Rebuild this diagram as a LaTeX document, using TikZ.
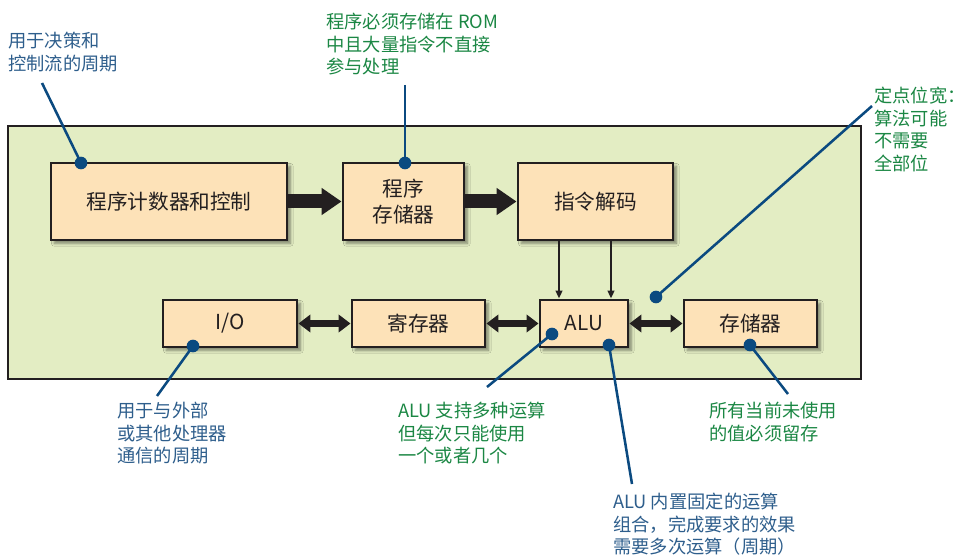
\documentclass[tikz,border=0pt]{standalone}
\usepackage{fontspec}
\setmainfont{Noto Sans CJK SC}
\usetikzlibrary{arrows.meta,shadows.blur}
\definecolor{boxfill}{HTML}{FDE2B8}
\definecolor{outerfill}{HTML}{E3EDC3}
\definecolor{callline}{HTML}{0B4A80}
\definecolor{blutext}{HTML}{2E5E8C}
\definecolor{grntext}{HTML}{1B8744}
\definecolor{edgecol}{HTML}{231F20}
\begin{document}
\begin{tikzpicture}[x=0.75pt,y=-0.75pt,
  unitbox/.style={draw=edgecol,line width=2.2pt,fill=boxfill,text=edgecol,
    font=\fontsize{15.5}{19}\selectfont,align=center,inner sep=0pt,
    blur shadow={shadow xshift=2.5pt,shadow yshift=-2.5pt,shadow blur steps=6,shadow opacity=45}},
  bigarrow/.style={edgecol,line width=10.5pt,-{Triangle[length=15pt,width=19.5pt]}},
  dblarrow/.style={edgecol,line width=5pt,{Triangle[length=9pt,width=13pt]}-{Triangle[length=9pt,width=13pt]}},
  thinarrow/.style={edgecol,line width=1.5pt,-{Triangle[length=6pt,width=5pt]}},
  callout/.style={callline,line width=1.9pt},
  calldot/.style={fill=callline,draw=none,circle,minimum size=9.5pt,inner sep=0pt},
  note/.style={anchor=north west,inner sep=0pt,align=left,font=\fontsize{13.7}{16.9}\selectfont},
  bluenote/.style={note,text=blutext},
  greennote/.style={note,text=grntext}]
\useasboundingbox (0,0) rectangle (958,556);
% outer area
\node[draw=edgecol,line width=2.2pt,fill=outerfill,minimum width=639.75pt,minimum height=189.75pt,inner sep=0pt] (outer) at (434.5,252.5) {};
% units
\node[unitbox,minimum width=177pt,minimum height=57.75pt] (pc) at (169,201.5) {程序计数器和控制};
\node[unitbox,minimum width=90.75pt,minimum height=57.75pt] (pm) at (403.5,201.5) {程序\\存储器};
\node[unitbox,minimum width=116.25pt,minimum height=57.75pt] (dec) at (595.5,201.5) {指令解码};
\node[unitbox,minimum width=100.5pt,minimum height=35.25pt] (io) at (230,323.5) {I/O};
\node[unitbox,minimum width=99.75pt,minimum height=35.25pt] (reg) at (418.5,323.5) {寄存器};
\node[unitbox,minimum width=66pt,minimum height=35.25pt] (alu) at (584,323.5) {ALU};
\node[unitbox,minimum width=99.75pt,minimum height=35.25pt] (mem) at (750.5,323.5) {存储器};
% data paths
\draw[bigarrow] (pc.east) -- (pm.west);
\draw[bigarrow] (pm.east) -- (dec.west);
\draw[dblarrow] (io.east) -- (reg.west);
\draw[dblarrow] (reg.east) -- (alu.west);
\draw[dblarrow] (alu.east) -- (mem.west);
\coordinate (a1) at (559,300);
\coordinate (a2) at (611,300);
\draw[thinarrow] (dec.south -| a1) -- (alu.north -| a1);
\draw[thinarrow] (dec.south -| a2) -- (alu.north -| a2);
% callout texts
\node[bluenote] (t1) at (8,32) {用于决策和\\控制流的周期};
\node[greennote] (t2) at (326,13) {程序必须存储在 ROM\\中且大量指令不直接\\参与处理};
\node[greennote] (t3) at (874,87) {定点位宽\makebox[0.3em][l]{：}\\算法可能\\不需要\\全部位};
\node[bluenote] (t4) at (117,402) {用于与外部\\或其他处理器\\通信的周期};
\node[greennote] (t5) at (398,402) {ALU 支持多种运算\\但每次只能使用\\一个或者几个};
\node[bluenote] (t6) at (613,493) {ALU 内置固定的运算\\组合，完成要求的效果\\需要多次运算（周期）};
\node[greennote] (t7) at (709,402) {所有当前未使用\\的值必须留存};
% callout lines
\coordinate (e1) at (42,83);   \node[calldot] (d1) at (81,163) {};
\coordinate (e2) at (405,85);  \node[calldot] (d2) at (405,163) {};
\coordinate (e3) at (872,106); \node[calldot] (d3) at (656,297) {};
\coordinate (e4) at (157,396); \node[calldot] (d4) at (193,346) {};
\coordinate (e5) at (487,387); \node[calldot] (d5) at (552,334) {};
\coordinate (e6) at (632,484); \node[calldot] (d6) at (609,345) {};
\coordinate (e7) at (788,394); \node[calldot] (d7) at (750,345) {};
\draw[callout] (e1) -- (d1.center);
\draw[callout] (e2) -- (d2.center);
\draw[callout] (e3) -- (d3.center);
\draw[callout] (e4) -- (d4.center);
\draw[callout] (e5) -- (d5.center);
\draw[callout] (e6) -- (d6.center);
\draw[callout] (e7) -- (d7.center);
\end{tikzpicture}
\end{document}
